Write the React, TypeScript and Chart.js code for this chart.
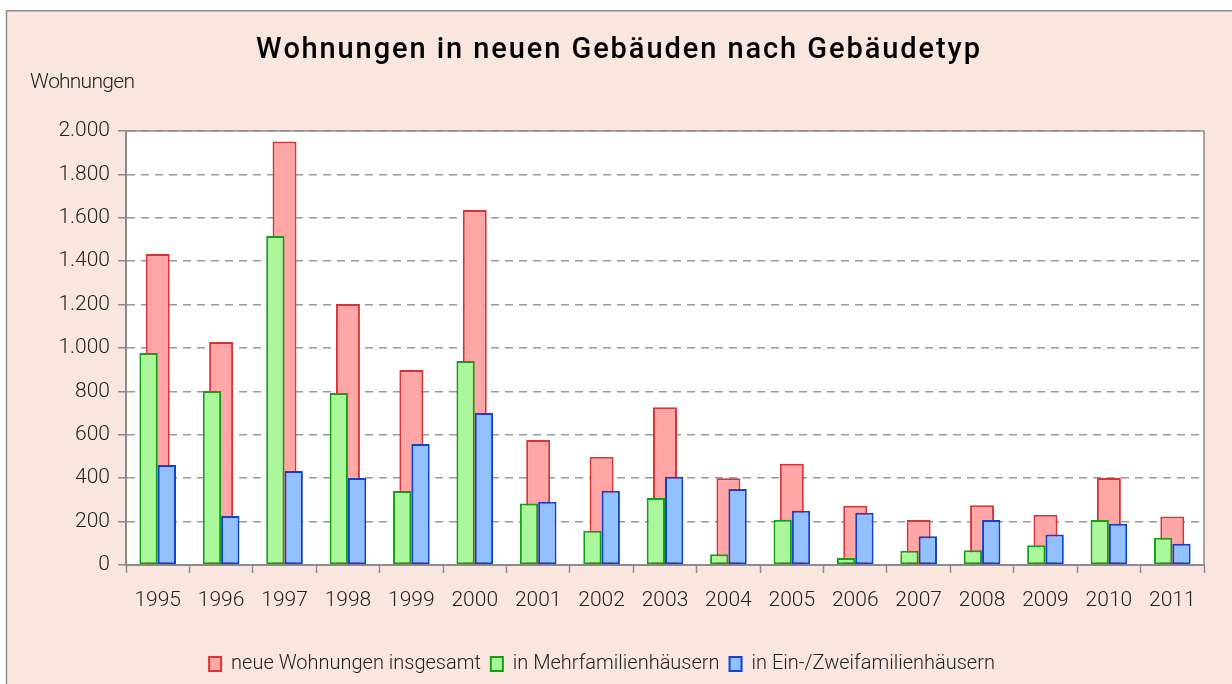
import React, { useEffect, useRef } from 'react';
import { Chart, registerables } from 'chart.js';

Chart.register(...registerables);

const years = ['1995', '1996', '1997', '1998', '1999', '2000', '2001', '2002', '2003', '2004', '2005', '2006', '2007', '2008', '2009', '2010', '2011'];
const totalFlats = [1433, 1028, 1952, 1203, 899, 1636, 576, 499, 727, 400, 467, 273, 207, 275, 232, 401, 224];
const multiFamily = [977, 802, 1516, 793, 341, 940, 283, 158, 309, 49, 209, 32, 66, 68, 91, 207, 126];
const oneTwoFamily = [461, 226, 433, 401, 558, 700, 292, 342, 407, 350, 250, 241, 132, 207, 141, 190, 98];
const seriesNames = ['neue Wohnungen insgesamt', 'in Mehrfamilienhäusern', 'in Ein-/Zweifamilienhäusern'];
const yMin = 0;
const yMax = 2000;
const yStep = 200;
const chartTitle = 'Wohnungen in neuen Gebäuden nach Gebäudetyp';
const yAxisTitle = 'Wohnungen';

const FONT = "Roboto, 'DejaVu Sans Condensed', sans-serif";

function fmtDE(v: number): string {
  return String(Math.round(v)).replace(/\B(?=(\d{3})+(?!\d))/g, '.');
}

function drawSpaced(ctx: CanvasRenderingContext2D, text: string, x: number, y: number, targetWidth: number) {
  const w0 = ctx.measureText(text).width;
  const n = text.length;
  const sp = n > 1 ? (targetWidth - w0) / (n - 1) : 0;
  for (let i = 0; i < n; i++) {
    const px = x + ctx.measureText(text.slice(0, i)).width + i * sp;
    ctx.fillText(text[i], px, y);
  }
}

const decorPlugin = {
  id: 'decor',
  beforeDraw(chart: any) {
    const { ctx, chartArea } = chart;
    ctx.save();
    ctx.fillStyle = '#ffffff';
    ctx.fillRect(0, 0, chart.width, chart.height);
    ctx.fillStyle = '#f9e7df';
    ctx.fillRect(6, 11, chart.width - 6, chart.height - 11);
    ctx.strokeStyle = '#8c8c8c';
    ctx.lineWidth = 1.5;
    ctx.beginPath();
    ctx.moveTo(6.5, chart.height);
    ctx.lineTo(6.5, 10.75);
    ctx.lineTo(chart.width, 10.75);
    ctx.stroke();
    ctx.fillStyle = '#ffffff';
    ctx.fillRect(chartArea.left, chartArea.top, chartArea.right - chartArea.left, chartArea.bottom - chartArea.top);

    ctx.fillStyle = '#000000';
    ctx.textBaseline = 'middle';
    ctx.textAlign = 'left';
    ctx.font = `500 29px ${FONT}`;
    drawSpaced(ctx, chartTitle, 256, 51, 724);
    ctx.fillStyle = '#222222';
    ctx.font = `300 21px ${FONT}`;
    drawSpaced(ctx, yAxisTitle, 30, 83, 105);
    ctx.restore();
  },
  beforeDatasetsDraw(chart: any) {
    const { ctx, chartArea } = chart;
    ctx.save();
    ctx.strokeStyle = '#8c8c8c';
    ctx.lineWidth = 1.5;
    ctx.beginPath();
    ctx.moveTo(chartArea.left, chartArea.top);
    ctx.lineTo(chartArea.right, chartArea.top);
    ctx.lineTo(chartArea.right, chartArea.bottom);
    ctx.stroke();
    ctx.restore();
  },
};

export default function App() {
  const canvasRef = useRef<HTMLCanvasElement | null>(null);

  useEffect(() => {
    const canvas = canvasRef.current;
    if (!canvas) return;
    const chart = new Chart(canvas, {
      type: 'bar',
      data: {
        labels: years,
        datasets: [
          {
            label: seriesNames[0],
            data: totalFlats,
            order: 1,
            grouped: false,
            backgroundColor: '#ffa6a6',
            borderColor: '#d93338',
            borderWidth: 2,
            borderSkipped: false,
            categoryPercentage: 1,
            barPercentage: 0.378,
          },
          {
            label: seriesNames[1],
            data: multiFamily,
            order: 0,
            backgroundColor: '#abf89c',
            borderColor: '#14a014',
            borderWidth: 2,
            borderSkipped: false,
            categoryPercentage: 0.578,
            barPercentage: 1,
          },
          {
            label: seriesNames[2],
            data: oneTwoFamily,
            order: 0,
            backgroundColor: '#93c0ff',
            borderColor: '#1040d4',
            borderWidth: 2,
            borderSkipped: false,
            categoryPercentage: 0.578,
            barPercentage: 1,
          },
        ],
      },
      options: {
        animation: false,
        responsive: false,
        devicePixelRatio: 1,
        layout: { padding: { left: 0, right: 28, top: 131, bottom: 0 } },
        plugins: {
          title: { display: false },
          tooltip: { enabled: false },
          legend: {
            position: 'bottom',
            labels: {
              boxWidth: 12,
              boxHeight: 14,
              padding: 10,
              color: '#222222',
              font: { family: FONT, size: 20, weight: '300' },
              sort: (a: any, b: any) => a.datasetIndex - b.datasetIndex,
            },
          },
        },
        scales: {
          x: {
            type: 'category',
            offset: true,
            grid: {
              offset: true,
              drawOnChartArea: false,
              drawTicks: true,
              tickLength: 8,
              tickColor: '#8c8c8c',
              tickWidth: 1.5,
            },
            border: { display: true, color: '#8c8c8c', width: 2 },
            ticks: {
              color: '#222222',
              padding: 15,
              maxRotation: 0,
              autoSkip: false,
              font: { family: FONT, size: 21, weight: '300' },
            },
            afterFit: (s: any) => {
              const lh = s.chart.legend ? s.chart.legend.height : 48;
              s.height = s.chart.height - 565 - lh;
            },
          },
          y: {
            min: yMin,
            max: yMax,
            ticks: {
              stepSize: yStep,
              color: '#222222',
              padding: 8,
              font: { family: FONT, size: 21, weight: '300' },
              callback: (v: any) => fmtDE(Number(v)),
            },
            grid: {
              color: '#9a9a9a',
              lineWidth: 1.5,
              tickLength: 8,
              tickColor: '#8c8c8c',
              tickBorderDash: [],
            },
            border: { display: true, color: '#8c8c8c', width: 2, dash: [8, 6] },
            afterFit: (s: any) => {
              s.width = 126;
            },
          },
        },
      },
      plugins: [decorPlugin],
    } as any);
    return () => chart.destroy();
  }, []);

  return (
    <div style={{ position: 'fixed', left: 0, top: 0, width: 1232, height: 684, background: '#ffffff' }}>
      <canvas ref={canvasRef} width={1232} height={684} style={{ width: 1232, height: 684, display: 'block' }} />
    </div>
  );
}
